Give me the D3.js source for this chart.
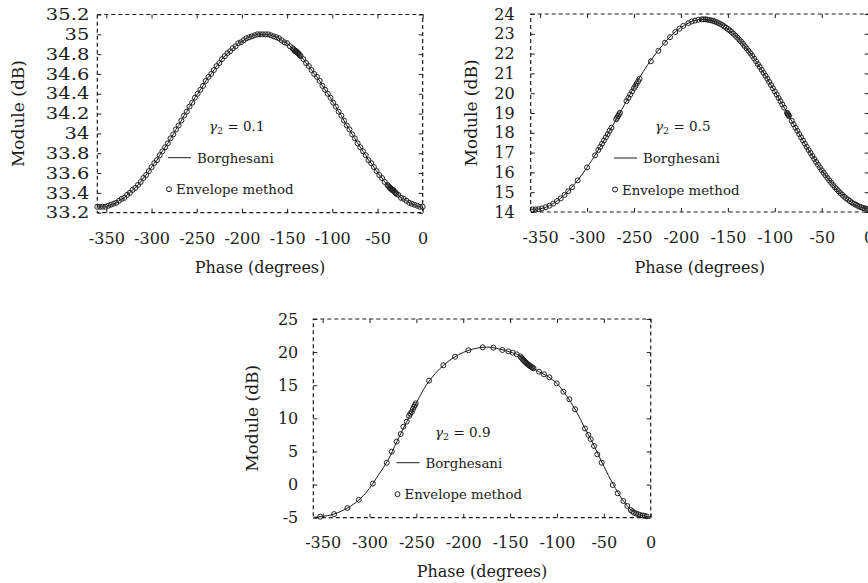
<!DOCTYPE html>
<html>
<head>
<meta charset="utf-8">
<script src="https://cdn.jsdelivr.net/npm/d3@7"></script>
<style>
  html, body { margin: 0; padding: 0; background: #fff; }
  svg { display: block; }
</style>
</head>
<body>
<script>
// ---------- shared axis data ----------
const xTicks = [-350, -300, -250, -200, -150, -100, -50, 0];
const xTickLabels = ["-350", "-300", "-250", "-200", "-150", "-100", "-50", "0"];

// ---------- panel 1: gamma2 = 0.1 ----------
const yTicks1 = [33.2, 33.4, 33.6, 33.8, 34, 34.2, 34.4, 34.6, 34.8, 35, 35.2];
const yTickLabels1 = ["33.2", "33.4", "33.6", "33.8", "34", "34.2", "34.4", "34.6", "34.8", "35", "35.2"];
const phase1 = [-360,-357,-354,-351,-348,-345,-342,-339,-336,-333,-330,-327,-324,-321,-318,-315,-312,-309,-306,-303,
  -300,-297,-294,-291,-288,-285,-282,-279,-276,-273,-270,-267,-264,-261,-258,-255,-252,-249,-246,-243,
  -240,-237,-234,-231,-228,-225,-222,-219,-216,-213,-210,-207,-204,-201,-198,-195,-192,-189,-186,-183,
  -180,-177,-174,-171,-168,-165,-162,-159,-156,-153,-150,-147,-144,-141,-138,-135,-132,-129,-126,-123,
  -120,-117,-114,-111,-108,-105,-102,-99,-96,-93,-90,-87,-84,-81,-78,-75,-72,-69,-66,-63,
  -60,-57,-54,-51,-48,-45,-42,-39,-36,-33,-30,-27,-24,-21,-18,-15,-12,-9,-6,-3,0];
const module1 = [33.26,33.26,33.26,33.26,33.27,33.28,33.29,33.30,33.32,33.34,33.35,33.38,33.40,33.43,33.45,33.48,33.51,33.55,33.58,33.62,
  33.66,33.70,33.73,33.78,33.82,33.86,33.90,33.95,33.99,34.04,34.08,34.13,34.18,34.22,34.27,34.31,34.36,34.40,34.44,34.48,
  34.53,34.57,34.60,34.64,34.68,34.71,34.75,34.78,34.81,34.83,34.86,34.88,34.91,34.92,34.94,34.96,34.97,34.98,34.99,35.00,
  35.00,35.00,35.00,35.00,34.99,34.98,34.97,34.96,34.94,34.92,34.91,34.88,34.86,34.83,34.81,34.78,34.75,34.71,34.68,34.64,
  34.60,34.57,34.53,34.48,34.44,34.40,34.36,34.31,34.27,34.22,34.18,34.13,34.08,34.04,33.99,33.95,33.90,33.86,33.82,33.78,
  33.73,33.70,33.66,33.62,33.58,33.55,33.51,33.48,33.45,33.43,33.40,33.38,33.35,33.34,33.32,33.30,33.29,33.28,33.27,33.26,33.26];
// densely sampled envelope stretches
const denseEnvPhase1 = [-143,-142,-141,-140,-139,-138,-137,-136,-38,-37,-36,-35,-34,-33,-32,-31,-30,-29];
const denseEnvModule1 = [34.85,34.84,34.83,34.83,34.82,34.81,34.80,34.79,33.47,33.46,33.45,33.44,33.43,33.43,33.42,33.41,33.40,33.39];

// ---------- panel 2: gamma2 = 0.5 ----------
const yTicks2 = [14, 15, 16, 17, 18, 19, 20, 21, 22, 23, 24];
const yTickLabels2 = ["14", "15", "16", "17", "18", "19", "20", "21", "22", "23", "24"];
const linePhase2 = [-360,-350,-340,-330,-320,-310,-300,-290,-280,-270,-260,-250,-240,-230,-220,-210,-200,-190,-180,
  -170,-160,-150,-140,-130,-120,-110,-100,-90,-80,-70,-60,-50,-40,-30,-20,-10,0];
const borghesani2 = [14.14,14.16,14.32,14.62,15.05,15.60,16.25,16.98,17.77,18.59,19.43,20.30,21.10,21.80,22.40,22.93,23.32,23.59,23.72,
  23.70,23.54,23.24,22.81,22.26,21.61,20.88,20.09,19.27,18.43,17.61,16.83,16.11,15.48,14.95,14.54,14.27,14.14];
const envPhase2 = [-358,-355,-352,-348,-344,-340,-336,-332,-328,-324,-320,-316,-310,-300,-291.5,
  -288,-286,-284,-282,-280,-278,-276,-274,-269,-268,-267,-266,-265,
  -258,-256,-254,-252,-250,-248.5,-247,-245.5,-244,-232,-224,-217,-211.6,-206,-201.5,-197.5,-192,-188.5,-185,-181.5,-178,
  -176,-174,-172,-170,-168,-166,-164,-162,-160,-158,-156,-154,-152,-150,-148,-146,-144,-142,-140,-138,-136,-134,
  -132,-130,-128,-126,-124,-122,-120,-118,-116,-114,-112,-110,-108,-106,-104,-102,-100,-98,-96,-94,-92,-90,
  -87,-86.5,-86,-85.5,-85,
  -82,-80,-78,-76,-74,-72,-70,-68,-66,-64,-62,-60,-58,-56,-54,-52,-50,-48,-46,-44,-42,-40,-38,-36,-34,-32,
  -30,-28,-26,-24,-22,-20,-18,-16,-14,-12,-10,-8,-6,-4,-2,0];
const envModule2 = [14.13,14.13,14.14,14.18,14.24,14.32,14.42,14.55,14.69,14.86,15.05,15.25,15.60,16.25,16.86,
  17.13,17.29,17.45,17.61,17.77,17.93,18.10,18.26,18.68,18.76,18.85,18.93,19.01,
  19.60,19.76,19.93,20.09,20.25,20.37,20.49,20.61,20.73,21.61,22.14,22.55,22.83,23.09,23.26,23.40,23.54,23.62,23.67,23.71,23.73,
  23.73,23.73,23.72,23.70,23.68,23.66,23.62,23.59,23.54,23.50,23.44,23.38,23.31,23.24,23.17,23.09,23.00,22.91,22.81,22.71,22.61,22.50,
  22.38,22.26,22.14,22.02,21.89,21.75,21.61,21.47,21.33,21.18,21.03,20.88,20.73,20.57,20.41,20.25,20.09,19.93,19.76,19.60,19.43,19.27,
  19.01,18.97,18.93,18.89,18.85,
  18.60,18.43,18.26,18.10,17.93,17.77,17.61,17.45,17.29,17.13,16.98,16.83,16.68,16.53,16.39,16.25,16.11,15.98,15.85,15.72,15.60,15.48,15.36,15.25,15.15,15.05,
  14.95,14.86,14.77,14.69,14.62,14.55,14.48,14.42,14.37,14.32,14.27,14.24,14.20,14.18,14.16,14.14];

// ---------- panel 3: gamma2 = 0.9 ----------
const yTicks3 = [-5, 0, 5, 10, 15, 20, 25];
const yTickLabels3 = ["-5", "0", "5", "10", "15", "20", "25"];
const linePhase3 = [-360,-350,-340,-330,-320,-310,-300,-290,-280,-270,-260,-250,-240,-230,-220,-210,-200,-190,-180,
  -170,-160,-150,-140,-130,-120,-110,-100,-90,-80,-70,-60,-50,-40,-30,-20,-10,0];
const borghesani3 = [-4.95,-4.80,-4.55,-4.00,-3.25,-2.15,-0.55,1.55,3.75,6.75,9.60,12.35,14.90,16.75,18.15,19.20,19.95,20.45,20.72,
  20.72,20.42,20.02,19.45,18.05,17.10,16.35,15.25,13.45,11.20,8.45,5.75,2.75,0.05,-2.30,-3.95,-4.65,-4.90];
const envPhase3 = [-352.7,-337.8,-323.6,-311.5,-296.5,-281.6,-276.3,-271,-266.7,-263.9,-260.3,-257.8,-256.5,-254.9,-253.7,-252.5,-251.6,-250.7,
  -236.5,-221.2,-208.7,-194.5,-179.2,-167.9,-158.3,-151.9,-147.2,-142.9,
  -139,-138,-137,-136,-135,-134,-133,-132,-131,-130,-129,-128,-127,-126,-125,
  -119.1,-113.8,-108.1,-100.3,-93.2,-86.8,-80.7,-70.1,-66.5,-64,-60.5,-57,-52.3,
  -40.5,-35.2,-29.2,-25,-21.3,-19.5,-17.8,-15.5,-13.2,-11,-8.5,-6.5,-4.3];
const envModule3 = [-4.85,-4.46,-3.54,-2.30,0.15,3.30,4.97,6.48,7.64,8.74,9.50,10.36,10.70,10.99,11.40,11.76,12.00,12.27,
  15.69,18.01,19.31,20.28,20.73,20.67,20.32,20.12,19.91,19.67,
  19.35,19.17,19.00,18.82,18.67,18.53,18.40,18.27,18.15,18.04,17.93,17.83,17.73,17.64,17.55,
  17.04,16.65,16.20,15.29,14.03,12.88,11.37,8.47,7.50,6.85,5.83,4.57,3.30,
  -0.06,-1.31,-2.48,-3.23,-3.84,-4.05,-4.25,-4.38,-4.49,-4.60,-4.68,-4.72,-4.80];

// ---------- drawing ----------
const W = 868, H = 583;
const FONT = "'DejaVu Serif', 'Liberation Serif', serif";
const INK = "#1b1b1b";

const svg = d3.select("body").append("svg")
  .attr("width", W).attr("height", H)
  .attr("viewBox", `0 0 ${W} ${H}`);

function drawPanel(o) {
  const x = d3.scaleLinear().domain([-360, 0]).range([o.left, o.right]);
  const y = d3.scaleLinear().domain(o.yDomain).range([o.bottom, o.top]);
  const g = svg.append("g");

  // inward ticks on all four sides
  const bottomAxis = d3.axisBottom(x).tickValues(xTicks).tickSize(-4).tickPadding(o.xPad)
    .tickFormat((d, i) => xTickLabels[i]);
  const topAxis = d3.axisTop(x).tickValues(xTicks).tickSize(-4).tickFormat("");
  const leftAxis = d3.axisLeft(y).tickValues(o.yTicks).tickSize(-4).tickPadding(o.yPad)
    .tickFormat((d, i) => o.yLabels[i]);
  const rightAxis = d3.axisRight(y).tickValues(o.yTicks).tickSize(-4).tickFormat("");

  const axes = [
    g.append("g").attr("transform", `translate(0,${o.bottom})`).call(bottomAxis),
    g.append("g").attr("transform", `translate(0,${o.top})`).call(topAxis),
    g.append("g").attr("transform", `translate(${o.left},0)`).call(leftAxis),
    g.append("g").attr("transform", `translate(${o.right},0)`).call(rightAxis)
  ];
  axes.forEach(a => {
    a.select(".domain").remove();
    a.selectAll("line").attr("stroke", INK).attr("stroke-width", 1);
    a.selectAll("text").attr("font-family", FONT).attr("font-size", o.tickFont).attr("fill", INK);
  });
  // wider set for the decimal labels of the first panel
  if (o.yStretch) {
    axes[2].selectAll("text").each(function () {
      const len = this.getComputedTextLength();
      d3.select(this).attr("textLength", len * o.yStretch).attr("lengthAdjust", "spacingAndGlyphs");
    });
  }

  // dashed frame
  g.append("rect")
    .attr("x", o.left).attr("y", o.top)
    .attr("width", o.right - o.left).attr("height", o.bottom - o.top)
    .attr("fill", "none").attr("stroke", INK).attr("stroke-width", 1.2)
    .attr("stroke-dasharray", "4,3");

  // Borghesani curve
  const line = d3.line().x(d => x(d[0])).y(d => y(d[1])).curve(d3.curveCatmullRom.alpha(0.5));
  g.append("path")
    .datum(d3.zip(o.linePhase, o.lineModule))
    .attr("d", line)
    .attr("fill", "none").attr("stroke", INK).attr("stroke-width", 1);

  // Envelope method samples
  g.append("g").selectAll("circle")
    .data(d3.zip(o.envPhase, o.envModule))
    .join("circle")
    .attr("cx", d => x(d[0])).attr("cy", d => y(d[1]))
    .attr("r", 2.5)
    .attr("fill", "none").attr("stroke", "#222").attr("stroke-width", 1);

  // axis titles
  g.append("text")
    .attr("transform", `translate(${o.yTitleX},${(o.top + o.bottom) / 2}) rotate(-90)`)
    .attr("text-anchor", "middle")
    .attr("font-family", FONT).attr("font-size", 17).attr("fill", INK)
    .text("Module (dB)");
  g.append("text")
    .attr("x", (o.left + o.right) / 2).attr("y", o.xTitleY)
    .attr("text-anchor", "middle")
    .attr("font-family", FONT).attr("font-size", 16).attr("fill", INK)
    .text("Phase (degrees)");

  // in-plot legend
  const gam = g.append("text")
    .attr("x", o.gammaX).attr("y", o.gammaY)
    .attr("font-family", FONT).attr("font-size", 13.5).attr("fill", INK);
  gam.append("tspan").attr("font-style", "italic").text("γ");
  gam.append("tspan").attr("font-size", 9.5).attr("dy", 3).text("2");
  gam.append("tspan").attr("dy", -3).text(" = " + o.gammaValue);

  g.append("line")
    .attr("x1", o.legX).attr("x2", o.legX + 23)
    .attr("y1", o.legY).attr("y2", o.legY)
    .attr("stroke", INK).attr("stroke-width", 1);
  g.append("text")
    .attr("x", o.legX + 29).attr("y", o.legY + 5)
    .attr("font-family", FONT).attr("font-size", 13.3).attr("fill", INK)
    .text("Borghesani");
  g.append("circle")
    .attr("cx", o.legX + 1).attr("cy", o.legY + 31.5).attr("r", 2.5)
    .attr("fill", "none").attr("stroke", INK).attr("stroke-width", 1);
  g.append("text")
    .attr("x", o.legX + 8).attr("y", o.legY + 36.5)
    .attr("font-family", FONT).attr("font-size", 13.3).attr("fill", INK)
    .text("Envelope method");
}

drawPanel({
  left: 97.3, right: 422.7, top: 14.5, bottom: 212.7,
  yDomain: [33.2, 35.2], yTicks: yTicks1, yLabels: yTickLabels1,
  xPad: 20, yPad: 8, tickFont: 16, yStretch: 1.22,
  linePhase: phase1, lineModule: module1,
  envPhase: phase1.concat(denseEnvPhase1), envModule: module1.concat(denseEnvModule1),
  yTitleX: 24, xTitleY: 273,
  gammaX: 209, gammaY: 131, gammaValue: "0.1",
  legX: 168, legY: 157.7
});

drawPanel({
  left: 530.7, right: 868.7, top: 14, bottom: 212,
  yDomain: [14, 24], yTicks: yTicks2, yLabels: yTickLabels2,
  xPad: 20, yPad: 16, tickFont: 16,
  linePhase: linePhase2, lineModule: borghesani2,
  envPhase: envPhase2, envModule: envModule2,
  yTitleX: 477, xTitleY: 273,
  gammaX: 655, gammaY: 131, gammaValue: "0.5",
  legX: 614, legY: 158
});

drawPanel({
  left: 313.3, right: 650.7, top: 319, bottom: 517.7,
  yDomain: [-5, 25], yTicks: yTicks3, yLabels: yTickLabels3,
  xPad: 18.5, yPad: 15, tickFont: 16,
  linePhase: linePhase3, lineModule: borghesani3,
  envPhase: envPhase3, envModule: envModule3,
  yTitleX: 258, xTitleY: 577,
  gammaX: 435, gammaY: 437, gammaValue: "0.9",
  legX: 396.5, legY: 462.7
});
</script>
</body>
</html>
